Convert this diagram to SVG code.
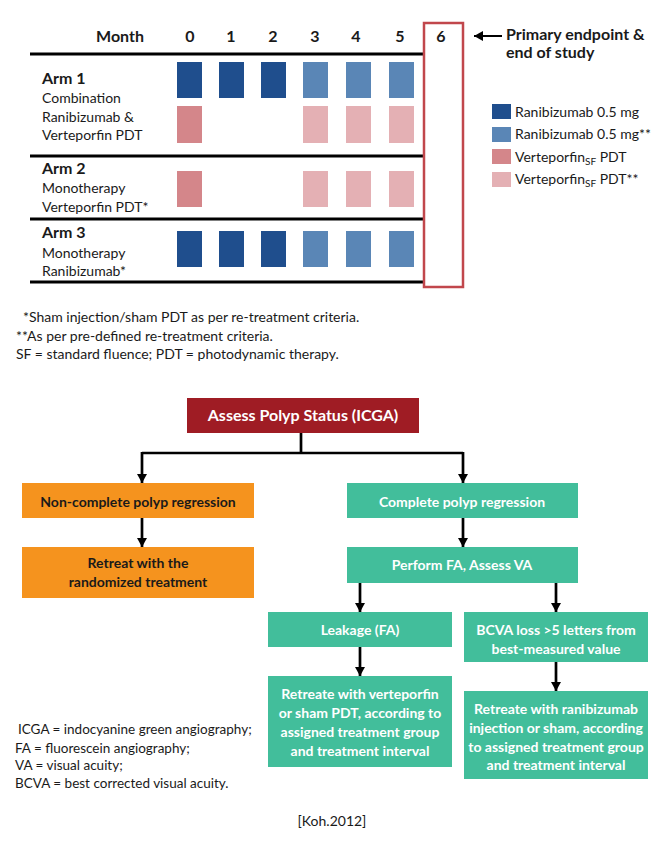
<svg xmlns="http://www.w3.org/2000/svg" width="669" height="845" viewBox="0 0 669 845">
<defs>
<style>
text{font-family:Lato,"Open Sans",sans-serif;fill:#1a1a1a}
.b{font-weight:bold}
.h{font-size:16px;font-weight:bold}
.arm{font-size:16px;font-weight:bold}
.sub{font-size:14px}
.lg{font-size:14px}
.fn{font-size:14px}
.ab{font-size:13.5px}
.fc{font-size:14px;font-weight:bold;text-anchor:middle}
.w{fill:#ffffff}
.c{text-anchor:middle}
.rb{fill:#1f4e8d}
.rl{fill:#5a86b6}
.vp{fill:#d4868a}
.vl{fill:#e4b0b4}
.rule{stroke:#000;stroke-width:3}
.con{stroke:#000;stroke-width:2.7;fill:none}
.red{fill:#9f1c24}
.org{fill:#f5931e}
.grn{fill:#42be9b}
</style>
<marker id="ah" markerUnits="userSpaceOnUse" markerWidth="11" markerHeight="10" refX="9" refY="5" orient="auto">
<path d="M0,0 L9,5 L0,10 Z" fill="#000"/>
</marker>
</defs>

<g id="schedule">
<text class="h c" x="120" y="42">Month</text>
<text class="h c" x="190" y="42">0</text>
<text class="h c" x="231" y="42">1</text>
<text class="h c" x="273" y="42">2</text>
<text class="h c" x="315" y="42">3</text>
<text class="h c" x="356" y="42">4</text>
<text class="h c" x="400" y="42">5</text>
<text class="h c" x="441" y="42">6</text>
<line class="rule" x1="30" y1="54" x2="424" y2="54"/>
<line class="rule" x1="30" y1="156" x2="424" y2="156"/>
<line class="rule" x1="30" y1="219" x2="424" y2="219"/>
<line class="rule" x1="30" y1="282" x2="424" y2="282"/>
<rect x="424" y="23" width="39" height="264" fill="none" stroke="#c1474c" stroke-width="2.5"/>
</g>

<g id="arm1">
<text class="arm" x="42" y="84">Arm 1</text>
<text class="sub" x="42" y="103">Combination</text>
<text class="sub" x="42" y="122">Ranibizumab &amp;</text>
<text class="sub" x="42" y="140">Verteporfin PDT</text>
<rect class="rb" x="177" y="62" width="25" height="36"/>
<rect class="rb" x="219" y="62" width="25" height="36"/>
<rect class="rb" x="261" y="62" width="25" height="36"/>
<rect class="rl" x="303" y="62" width="25" height="36"/>
<rect class="rl" x="346" y="62" width="25" height="36"/>
<rect class="rl" x="389" y="62" width="25" height="36"/>
<rect class="vp" x="177" y="106" width="25" height="37"/>
<rect class="vl" x="303" y="106" width="25" height="37"/>
<rect class="vl" x="346" y="106" width="25" height="37"/>
<rect class="vl" x="389" y="106" width="25" height="37"/>
</g>

<g id="arm2">
<text class="arm" x="42" y="174">Arm 2</text>
<text class="sub" x="42" y="193">Monotherapy</text>
<text class="sub" x="42" y="212">Verteporfin PDT*</text>
<rect class="vp" x="177" y="171" width="25" height="36"/>
<rect class="vl" x="303" y="171" width="25" height="36"/>
<rect class="vl" x="346" y="171" width="25" height="36"/>
<rect class="vl" x="389" y="171" width="25" height="36"/>
</g>

<g id="arm3">
<text class="arm" x="42" y="238">Arm 3</text>
<text class="sub" x="42" y="258">Monotherapy</text>
<text class="sub" x="42" y="276">Ranibizumab*</text>
<rect class="rb" x="177" y="231" width="25" height="36"/>
<rect class="rb" x="219" y="231" width="25" height="36"/>
<rect class="rb" x="261" y="231" width="25" height="36"/>
<rect class="rl" x="303" y="231" width="25" height="36"/>
<rect class="rl" x="346" y="231" width="25" height="36"/>
<rect class="rl" x="389" y="231" width="25" height="36"/>
</g>

<g id="endpoint">
<line x1="502" y1="36" x2="474" y2="36" stroke="#000" stroke-width="2" marker-end="url(#ah)"/>
<text class="h" x="506" y="40">Primary endpoint  &amp;</text>
<text class="h" x="506" y="58">end of study</text>
</g>

<g id="legend">
<rect class="rb" x="492" y="104" width="19" height="15"/>
<text class="lg" x="515" y="117">Ranibizumab 0.5 mg</text>
<rect class="rl" x="492" y="127" width="19" height="15"/>
<text class="lg" x="515" y="139">Ranibizumab 0.5 mg**</text>
<rect class="vp" x="492" y="149" width="19" height="15"/>
<text class="lg" x="515" y="162">Verteporfin<tspan font-size="10" dy="3">SF</tspan><tspan dy="-3"> PDT</tspan></text>
<rect class="vl" x="492" y="172" width="19" height="15"/>
<text class="lg" x="515" y="184">Verteporfin<tspan font-size="10" dy="3">SF</tspan><tspan dy="-3"> PDT**</tspan></text>
</g>

<g id="footnotes">
<text class="fn" x="23" y="322">*Sham injection/sham PDT as per re-treatment criteria.</text>
<text class="fn" x="16" y="341">**As per pre-defined re-treatment criteria.</text>
<text class="fn" x="16" y="359">SF = standard fluence; PDT = photodynamic therapy.</text>
</g>

<g id="connectors">
<polyline class="con" points="301,433 301,453"/>
<polyline class="con" points="142,453 463,453"/>
<line class="con" x1="142" y1="452" x2="142" y2="483" marker-end="url(#ah)"/>
<line class="con" x1="463" y1="452" x2="463" y2="483" marker-end="url(#ah)"/>
<line class="con" x1="142" y1="518" x2="142" y2="547" marker-end="url(#ah)"/>
<line class="con" x1="463" y1="518" x2="463" y2="547" marker-end="url(#ah)"/>
<line class="con" x1="360" y1="583" x2="360" y2="612" marker-end="url(#ah)"/>
<line class="con" x1="556" y1="583" x2="556" y2="612" marker-end="url(#ah)"/>
<line class="con" x1="360" y1="647" x2="360" y2="676" marker-end="url(#ah)"/>
<line class="con" x1="556" y1="662" x2="556" y2="691" marker-end="url(#ah)"/>
</g>

<g id="assess">
<rect class="red" x="187" y="398" width="232" height="35"/>
<text class="w" x="303" y="421" style="font-size:16px;font-weight:bold;text-anchor:middle">Assess Polyp Status (ICGA)</text>
</g>

<g id="noncomplete">
<rect class="org" x="22" y="483" width="232" height="35"/>
<text class="fc" x="138" y="507">Non-complete polyp regression</text>
</g>

<g id="retreat-randomized">
<rect class="org" x="22" y="547" width="232" height="51"/>
<text class="fc" x="138" y="568">Retreat with the</text>
<text class="fc" x="138" y="587">randomized treatment</text>
</g>

<g id="complete">
<rect class="grn" x="347" y="483" width="231" height="35"/>
<text class="fc w" x="462" y="507">Complete polyp regression</text>
</g>

<g id="perform">
<rect class="grn" x="347" y="547" width="231" height="36"/>
<text class="fc w" x="462" y="570">Perform FA, Assess VA</text>
</g>

<g id="leakage">
<rect class="grn" x="268" y="612" width="184" height="35"/>
<text class="fc w" x="360" y="635">Leakage (FA)</text>
</g>

<g id="bcva">
<rect class="grn" x="464" y="612" width="184" height="50"/>
<text class="fc w" x="556" y="635">BCVA loss &gt;5 letters from</text>
<text class="fc w" x="556" y="654">best-measured value</text>
</g>

<g id="retreat-verteporfin">
<rect class="grn" x="268" y="676" width="184" height="91"/>
<text class="fc w" x="360" y="699">Retreate with verteporfin</text>
<text class="fc w" x="360" y="718">or sham PDT, according to</text>
<text class="fc w" x="360" y="737">assigned treatment group</text>
<text class="fc w" x="360" y="756">and treatment interval</text>
</g>

<g id="retreat-ranibizumab">
<rect class="grn" x="464" y="691" width="184" height="88"/>
<text class="fc w" x="556" y="714">Retreate with ranibizumab</text>
<text class="fc w" x="556" y="733">injection or sham, according</text>
<text class="fc w" x="556" y="752">to assigned treatment group</text>
<text class="fc w" x="556" y="770">and treatment interval</text>
</g>

<g id="abbreviations">
<text class="ab" x="18" y="734">ICGA = indocyanine green angiography;</text>
<text class="ab" x="15" y="753">FA = fluorescein angiography;</text>
<text class="ab" x="15" y="770">VA = visual acuity;</text>
<text class="ab" x="15" y="788">BCVA = best corrected visual acuity.</text>
</g>

<text x="332" y="826" style="font-size:14px;text-anchor:middle">[Koh.2012]</text>
</svg>
